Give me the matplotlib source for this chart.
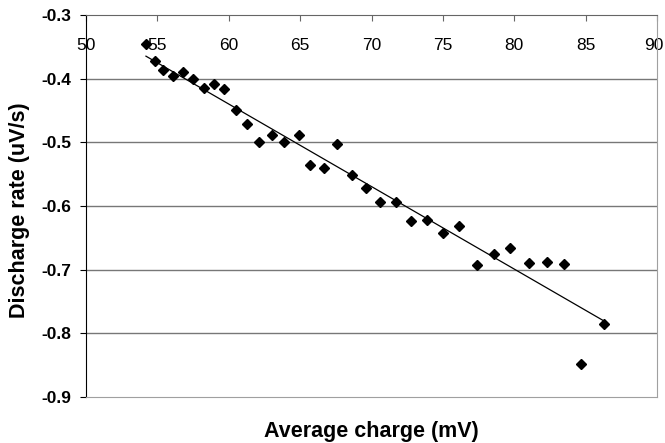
import numpy as np
import matplotlib.pyplot as plt
from matplotlib.transforms import ScaledTranslation

plt.rcParams['font.family'] = ['Liberation Sans', 'DejaVu Sans']

# average charge (mV) and discharge rate (uV/s)
charge = [54.2, 54.8, 55.4, 56.1, 56.8, 57.5, 58.3, 59.0, 59.7, 60.5,
          61.3, 62.1, 63.0, 63.9, 64.9, 65.7, 66.7, 67.6, 68.6, 69.6,
          70.6, 71.7, 72.8, 73.9, 75.0, 76.1, 77.4, 78.6, 79.7, 81.0,
          82.3, 83.5, 84.7, 86.3]
rate = [-0.346, -0.372, -0.387, -0.396, -0.389, -0.401, -0.415, -0.409, -0.417, -0.449,
        -0.471, -0.500, -0.488, -0.500, -0.489, -0.536, -0.541, -0.502, -0.552, -0.571,
        -0.593, -0.594, -0.624, -0.622, -0.643, -0.632, -0.692, -0.676, -0.666, -0.690,
        -0.688, -0.691, -0.848, -0.785]

xticks = [50, 55, 60, 65, 70, 75, 80, 85, 90]
yticks = [-0.9, -0.8, -0.7, -0.6, -0.5, -0.4, -0.3]

fig = plt.figure(figsize=(6.65, 4.43), dpi=100)
ax = fig.add_axes([86/665, 1-397/443, (657-86)/665, (397-15)/443])

# linear trend line (least squares)
k, b = np.polyfit(charge, rate, 1)
xs = np.array([min(charge), max(charge)])
ax.plot(xs, k*xs + b, color='black', lw=0.9, zorder=2)

ax.plot(charge, rate, linestyle='none', marker='D', markersize=5.6,
        color='black', zorder=3)

ax.set_xlim(50, 90)
ax.set_ylim(-0.9, -0.3)
ax.set_xticks(xticks)
ax.set_xticklabels([str(t) for t in xticks])
ax.set_yticks(yticks)
ax.set_yticklabels(['%.1f' % t for t in yticks], fontweight='bold')

for y in yticks[1:-1]:
    ax.axhline(y, color='#777777', lw=1, zorder=1)

ax.xaxis.set_ticks_position('top')
ax.tick_params(axis='x', direction='in', length=4, pad=-27, labelsize=12.5,
               color='#666666', labeltop=True, labelbottom=False)
ax.tick_params(axis='y', direction='out', length=4.3, pad=6.5, labelsize=12.5)

# nudge the last x label so it stays inside the figure
last = ax.xaxis.get_major_ticks()[-1].label2
last.set_transform(last.get_transform() + ScaledTranslation(-0.03, 0, fig.dpi_scale_trans))

ax.spines['left'].set_color('black')
ax.spines['top'].set_color('#666666')
ax.spines['right'].set_color('#a0a0a0')
ax.spines['bottom'].set_color('#a0a0a0')

fig.text(371/665, 1-432/443, 'Average charge (mV)', ha='center', va='center',
         fontsize=15.5, fontweight='bold')
fig.text(20/665, 1-210/443, 'Discharge rate (uV/s)', ha='center', va='center',
         rotation=90, fontsize=15.5, fontweight='bold')

fig.savefig('out.png', dpi=100)
